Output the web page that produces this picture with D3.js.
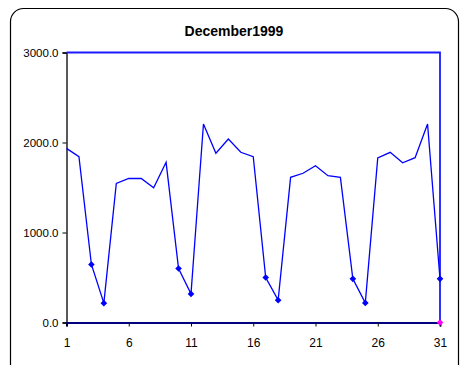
<!DOCTYPE html>
<html>
<head>
<meta charset="utf-8">
<script src="https://cdn.jsdelivr.net/npm/d3@7"></script>
<style>
  html, body { margin: 0; padding: 0; background: #fff; }
  svg { display: block; font-family: "Liberation Sans", Arial, sans-serif; }
</style>
</head>
<body>
<svg id="chart" width="462" height="365"></svg>
<script>
// Daily values for December 1999
const days = d3.range(1, 32);
const values = [1935, 1842, 645, 215, 1545, 1600, 1600, 1497, 1780, 600,
                318, 2206, 1880, 2039, 1891, 1842, 500, 248, 1613, 1658,
                1742, 1631, 1613, 485, 218, 1828, 1891, 1775, 1831, 2206, 485];
// Days drawn with a diamond marker
const markedDays = [3, 4, 10, 11, 17, 18, 24, 25, 31];
// Upper limit outline: runs along 3000 then drops at the last day
const limitDays = [1, 31, 31];
const limitValues = [3000, 3000, 0];
const xTicks = [1, 6, 11, 16, 21, 26, 31];
const yTicks = [0, 1000, 2000, 3000];
const title = "December1999";

const svg = d3.select("#chart");
const W = 462, H = 365;
const margin = { left: 66.5, right: 22, top: 52.5, bottom: 42.5 };

// Outer chart frame with rounded corners
svg.append("rect")
  .attr("x", 10.5).attr("y", 8.5)
  .attr("width", 448).attr("height", 370)
  .attr("rx", 13).attr("ry", 13)
  .attr("fill", "#fff").attr("stroke", "#000").attr("stroke-width", 1.2);

const x = d3.scaleLinear().domain([1, 31]).range([margin.left, 440]);
const y = d3.scaleLinear().domain([0, 3000]).range([322.5, margin.top]);

// Title
svg.append("text")
  .attr("x", 234).attr("y", 35.5)
  .attr("text-anchor", "middle")
  .attr("font-weight", "bold").attr("font-size", 14)
  .attr("fill", "#000")
  .text(title);

// Y axis
const yAxis = svg.append("g")
  .attr("transform", `translate(${margin.left},0)`)
  .call(d3.axisLeft(y).tickValues(yTicks).tickFormat(d3.format(".1f")).tickSize(4).tickPadding(4));
yAxis.select(".domain").attr("stroke", "#000").attr("stroke-width", 1.3);
yAxis.selectAll(".tick line").attr("stroke", "#000");
yAxis.selectAll(".tick text").attr("font-size", 11.5).attr("fill", "#000")
  .attr("font-family", "Liberation Sans, Arial, sans-serif");

// X axis
const xAxis = svg.append("g")
  .attr("transform", `translate(0,${y(0)})`)
  .call(d3.axisBottom(x).tickValues(xTicks).tickFormat(d3.format("d")).tickSize(4).tickPadding(12));
xAxis.select(".domain").attr("stroke", "#000080").attr("stroke-width", 2);
xAxis.selectAll(".tick line").attr("stroke", "#000");
xAxis.selectAll(".tick text").attr("font-size", 12).attr("fill", "#000")
  .attr("font-family", "Liberation Sans, Arial, sans-serif");

// Upper limit outline
const limitPts = limitDays.map((d, i) => [d, limitValues[i]]);
svg.append("path")
  .datum(limitPts)
  .attr("fill", "none")
  .attr("stroke", "#1a1aff").attr("stroke-width", 1.8)
  .attr("d", d3.line().x(d => x(d[0])).y(d => y(d[1])));

// Daily series line
const pts = days.map((d, i) => [d, values[i]]);
svg.append("path")
  .datum(pts)
  .attr("fill", "none")
  .attr("stroke", "#0000ff").attr("stroke-width", 1.3)
  .attr("stroke-linejoin", "miter")
  .attr("d", d3.line().x(d => x(d[0])).y(d => y(d[1])));

// Diamond markers
const diamond = d3.symbol().type(d3.symbolDiamond2).size(28);
svg.append("g").selectAll("path")
  .data(pts.filter(p => markedDays.includes(p[0])))
  .join("path")
  .attr("transform", d => `translate(${x(d[0])},${y(d[1])})`)
  .attr("d", diamond)
  .attr("fill", "#0000ff");

// Marker at the end of the limit outline
const last = limitPts[limitPts.length - 1];
svg.append("path")
  .attr("transform", `translate(${x(last[0])},${y(last[1])})`)
  .attr("d", diamond)
  .attr("fill", "#ff00ff");
</script>
</body>
</html>
